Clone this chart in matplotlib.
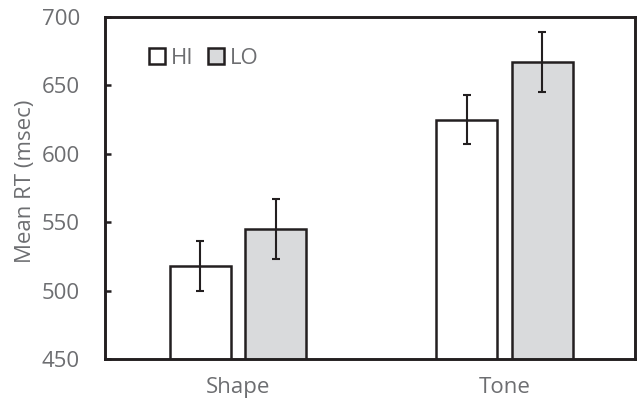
import matplotlib
matplotlib.use("Agg")
import matplotlib.pyplot as plt
import numpy as np
from matplotlib.patches import Patch

# data
tasks = ["Shape", "Tone"]
groups = ["HI", "LO"]
hi_mean = [518, 625]
lo_mean = [545, 667]
hi_err = [18, 18]
lo_err = [22, 22]
yticks = [450, 500, 550, 600, 650, 700]

plt.rcParams['font.family'] = ['Open Sans', 'DejaVu Sans']
edge = '#231f20'
grey_txt = '#6d6e71'
lo_fill = '#d9dadc'

fig = plt.figure(figsize=(6.38, 4.04), dpi=100)
ax = fig.add_axes([105/638, 45/404, 530/638, 342/404])

x = np.arange(len(tasks))
w = 0.229
off = 0.142
ekw = dict(ecolor=edge, elinewidth=1.5, capsize=2.6, capthick=1.5)
ax.bar(x - off, hi_mean, w, yerr=hi_err, color='white', edgecolor=edge,
       linewidth=1.8, error_kw=ekw, zorder=2)
ax.bar(x + off, lo_mean, w, yerr=lo_err, color=lo_fill, edgecolor=edge,
       linewidth=1.8, error_kw=ekw, zorder=2)

ax.set_xlim(-0.5, 1.49)
ax.set_ylim(450, 700)
ax.set_yticks(yticks)
ax.set_xticks(x)
ax.set_xticklabels(tasks)

for s in ax.spines.values():
    s.set_color(edge)
    s.set_linewidth(2.1)

ax.tick_params(axis='y', direction='in', length=4.5, width=1.8, color=edge,
               labelsize=16, labelcolor=grey_txt, pad=18)
ax.tick_params(axis='x', length=0, labelsize=16, labelcolor=grey_txt, pad=13)

ax.set_ylabel('Mean RT (msec)', fontsize=16, color=grey_txt, va='center')
ax.yaxis.set_label_coords((26 - 105) / 530, (359 - 181.5) / 342)

handles = [Patch(facecolor='white', edgecolor=edge, linewidth=1.8),
           Patch(facecolor=lo_fill, edgecolor=edge, linewidth=1.8)]
leg = ax.legend(handles, groups, loc='upper left', bbox_to_anchor=(0.083, 0.91),
                ncol=2, frameon=False, fontsize=16, handlelength=0.7,
                handleheight=0.7, handletextpad=0.3, columnspacing=0.64,
                borderaxespad=0, borderpad=0)
for t in leg.get_texts():
    t.set_color(grey_txt)

fig.savefig("out.png", dpi=100)
